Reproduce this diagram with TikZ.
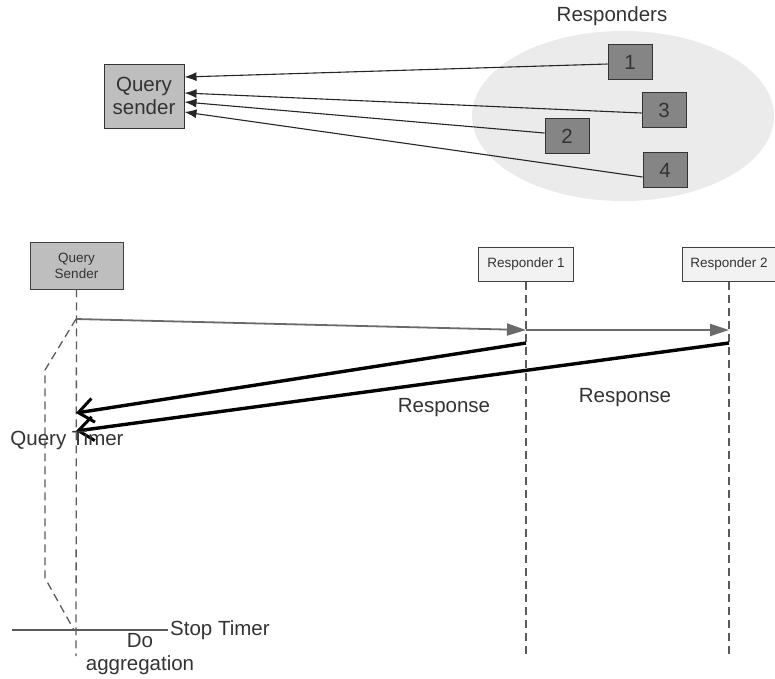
\documentclass[tikz,border=0pt]{standalone}
\usepackage{fontspec}
\setmainfont{Liberation Sans}
\usetikzlibrary{arrows.meta,calc}
\definecolor{cloudgray}{HTML}{EBEBEB}
\definecolor{boxgray}{HTML}{BEBEBE}
\definecolor{darkbox}{HTML}{858585}
\definecolor{lightbox}{HTML}{F2F2F2}
\definecolor{linegray}{HTML}{5A5A5A}
\definecolor{reqgray}{HTML}{6A6A6A}
\definecolor{txt}{HTML}{333333}
\begin{document}
\begin{tikzpicture}[x=1pt,y=-1pt,
  bigtext/.style={font=\fontsize{20.5}{23}\selectfont, text=txt},
  smalltext/.style={font=\fontsize{13.5}{16}\selectfont, text=txt},
  senderbox/.style={draw=black!80, line width=1pt, fill=boxgray, align=center, inner sep=0pt, bigtext},
  respbox/.style={draw=black!80, line width=1pt, fill=darkbox, minimum width=44pt, minimum height=35pt, inner sep=0pt, bigtext},
  lifebox/.style={draw=black!75, line width=0.8pt, align=center, inner sep=0pt, smalltext},
  toparrow/.style={draw=black!85, line width=1.1pt, -{Latex[length=12pt,width=9pt]}},
  request/.style={draw=reqgray, line width=1.8pt, -{Triangle[length=19pt,width=12pt]}},
  response/.style={draw=black, line width=3.4pt, -{Straight Barb[length=15pt,width=24pt,line width=3pt]}},
  lifeline/.style={draw=linegray, line width=1.3pt, dash pattern=on 8pt off 5pt},
  plainline/.style={draw=linegray, line width=1.3pt}]
\useasboundingbox (0,0) rectangle (775,678);

% ---- responders cloud and query sender ----
\fill[cloudgray] (623,116) ellipse [x radius=151pt, y radius=85pt];
\node[bigtext] (cloudlabel) at (612,16) {Responders};

\node[senderbox, minimum width=80pt, minimum height=64pt] (qs) at (144,96) {Query\\sender};

\node[respbox] (r1) at (630,62) {1};
\node[respbox] (r3) at (664,110) {3};
\node[respbox] (r2) at (567,136) {2};
\node[respbox] (r4) at (665,170) {4};

\draw[toparrow] ($(r1.west)+(0,2)$) -- (qs.east |- 0,77);
\draw[toparrow] ($(r3.west)+(0,3)$) -- (qs.east |- 0,93);
\draw[toparrow] ($(r2.west)+(0,-3)$) -- (qs.east |- 0,102);
\draw[toparrow] ($(r4.west)+(0,7)$) -- (qs.east |- 0,112);

% ---- sequence diagram ----
\node[lifebox, fill=boxgray, minimum width=93pt, minimum height=47pt] (qsb) at (76.5,265.5) {Query\\Sender};
\node[lifebox, fill=lightbox, minimum width=95pt, minimum height=34pt] (rp1) at (526,264.5) {Responder 1};
\node[lifebox, fill=lightbox, minimum width=94pt, minimum height=34pt] (rp2) at (729,264.5) {Responder 2};

\coordinate (qend) at (76,656);
\coordinate (r1end) at (526,656);
\coordinate (r2end) at (729,656);
\draw[lifeline] (qsb.south) -- (qend);
\draw[lifeline] (rp1.south) -- (r1end);
\draw[lifeline] (rp2.south) -- (r2end);

\coordinate (qsend) at (76,319);
\coordinate (a1) at (526,330);
\coordinate (a2) at (729,330);
\coordinate (b1) at (526,343);
\coordinate (b2) at (729,343);
\coordinate (q2) at (76,413);
\coordinate (q3) at (76,431);

\draw[request] (qsend) -- (a1);
\draw[request] (a1) -- (a2);
\draw[response] (b1) -- (q2);
\draw[response] (b2) -- (q3);

\node[bigtext] (resp1) at (444,408) {Response};
\node[bigtext] (resp2) at (625,398) {Response};

% query timer
\coordinate (t1) at (45,370);
\coordinate (t2) at (45,578);
\coordinate (tstop) at (74,630);
\draw[lifeline] (qsend) -- (t1) -- (t2) -- (tstop);
\node[bigtext] (timer) at (67,440) {Query Timer};

\coordinate (stopstart) at (12,630);
\node[bigtext, anchor=west, inner sep=2pt] (stop) at (168,630) {Stop Timer};
\draw[plainline] (stopstart) -- (stop.west);
\node[bigtext, align=center] (aggr) at (140,654) {Do\\aggregation};
\end{tikzpicture}
\end{document}
